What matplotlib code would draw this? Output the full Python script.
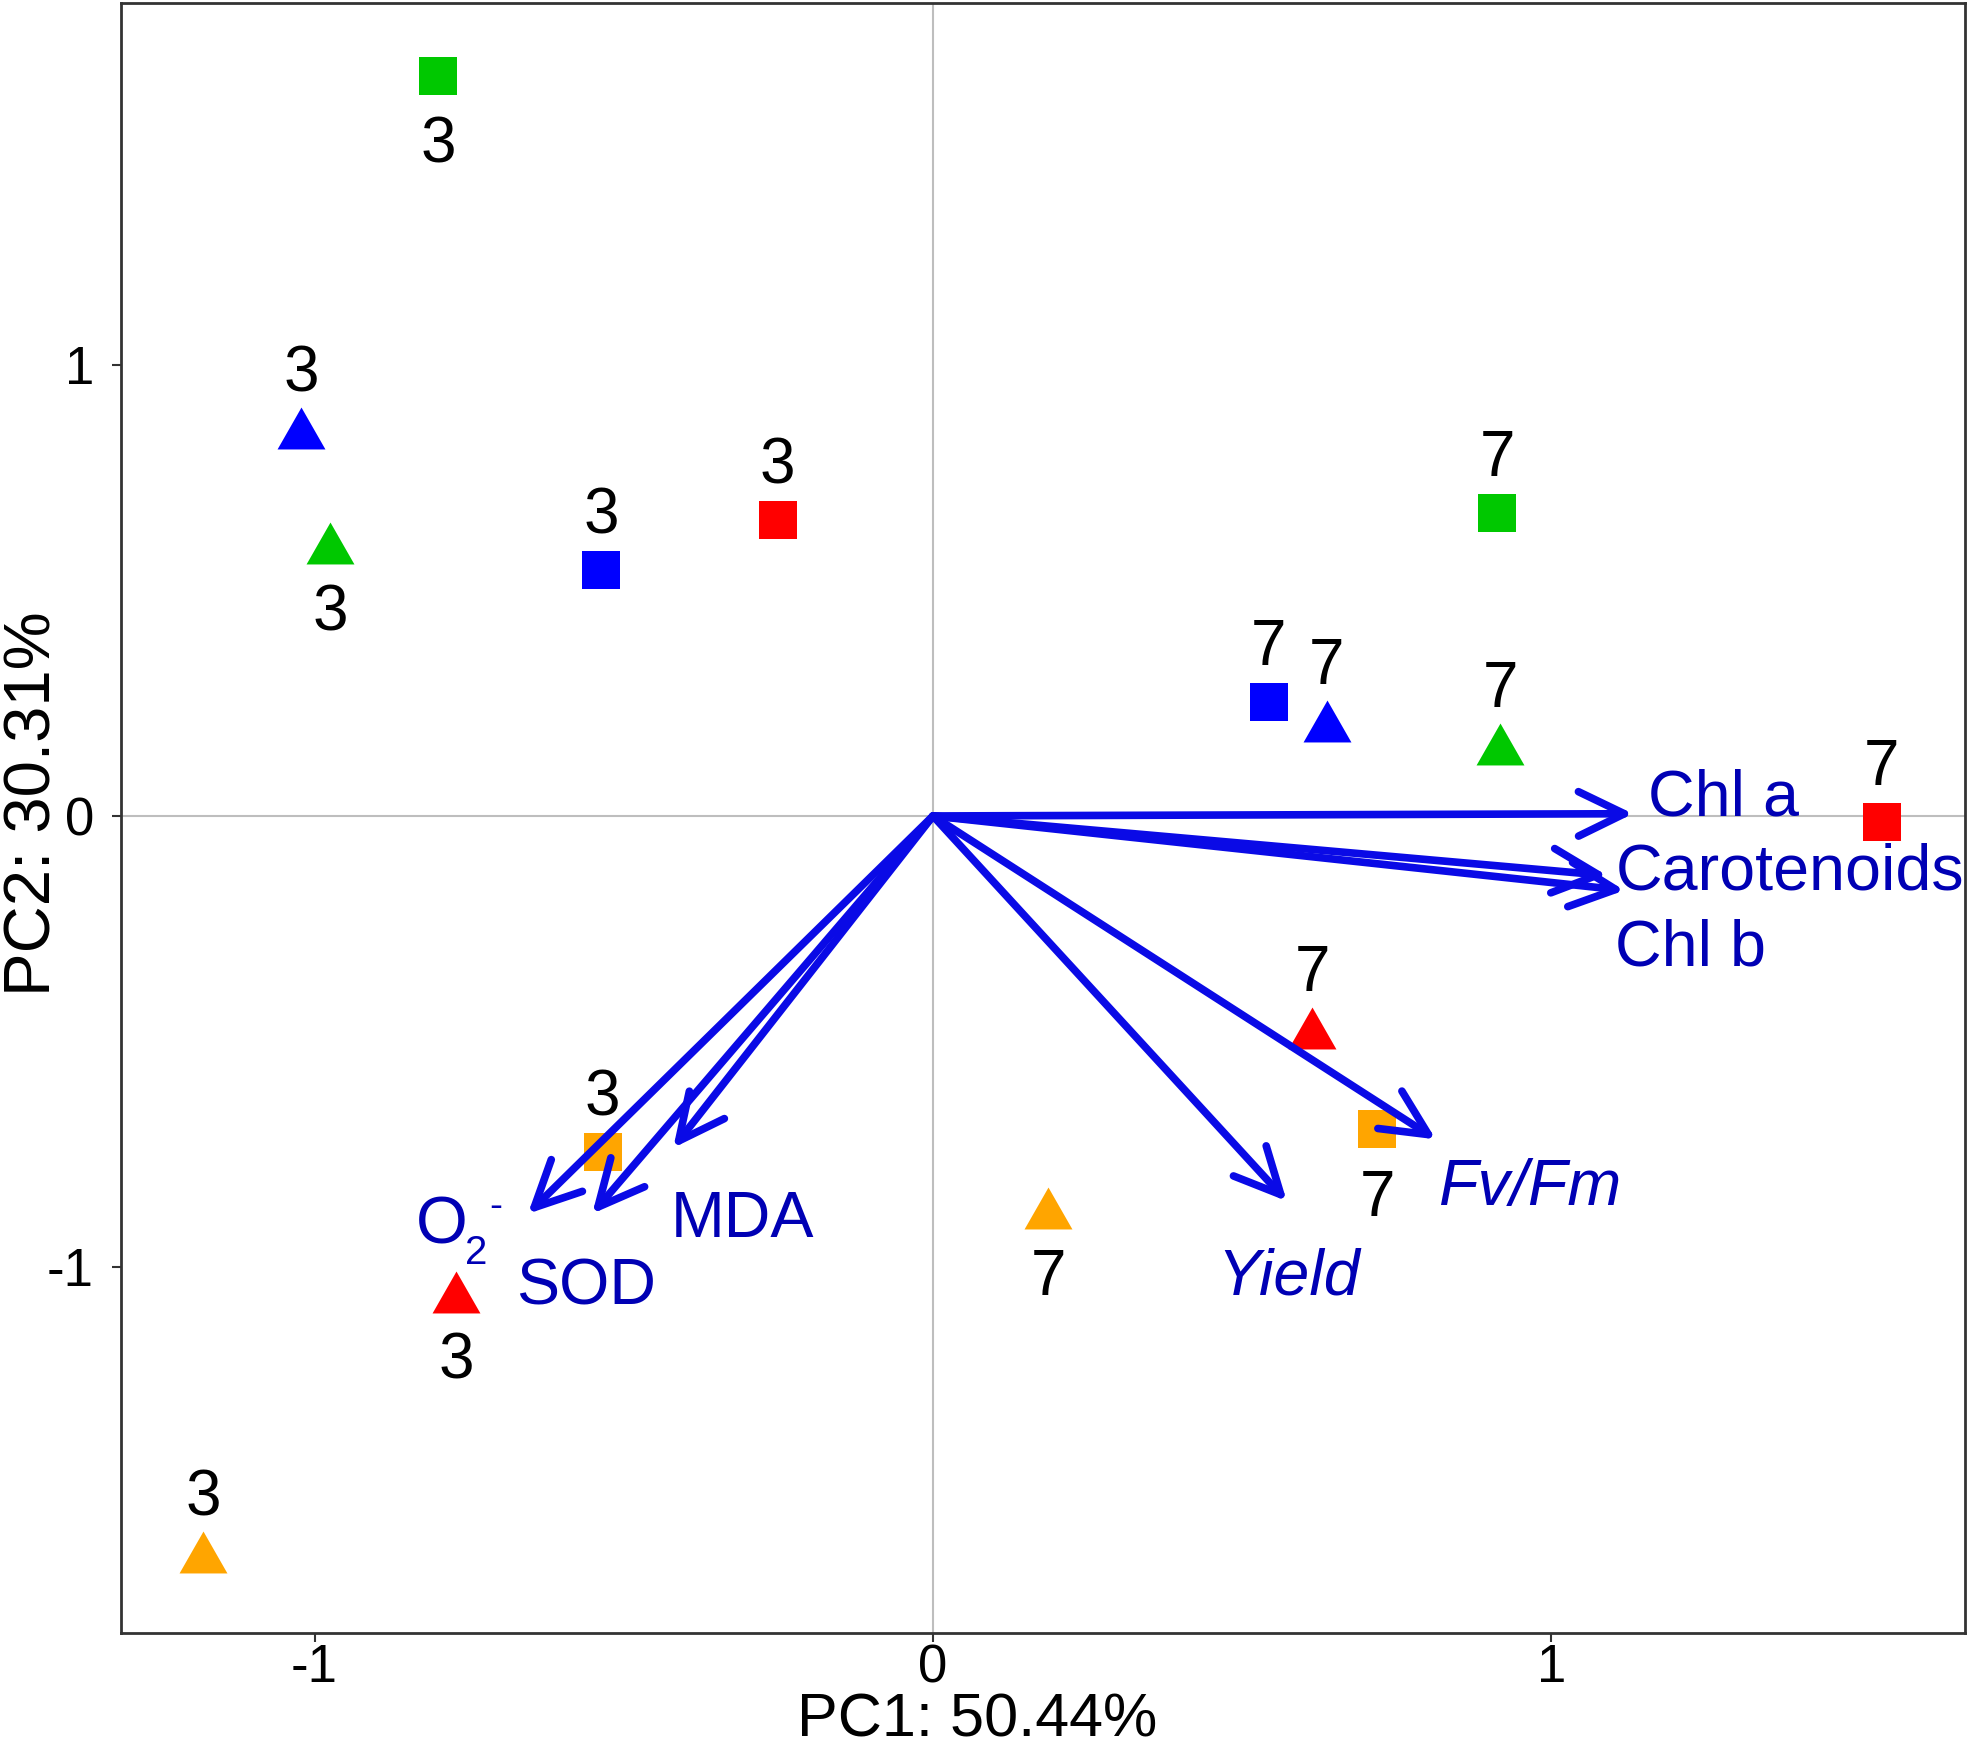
import matplotlib
matplotlib.use('Agg')
import matplotlib.pyplot as plt
from matplotlib.patches import FancyArrowPatch

plt.rcParams['font.family'] = ['Liberation Sans', 'DejaVu Sans']

# sample scores (PC1, PC2)
pc1 = [-0.800, -1.022, -0.975, -0.537, -0.251, -0.534, -0.771, -1.180,
       0.912, 0.543, 0.637, 0.917, 1.534, 0.613, 0.718, 0.186]
pc2 = [1.641, 0.860, 0.605, 0.545, 0.656, -0.745, -1.055, -1.632,
       0.672, 0.253, 0.211, 0.160, -0.013, -0.470, -0.694, -0.869]
sample_color = ['green', 'blue', 'green', 'blue', 'red', 'orange', 'red', 'orange',
                'green', 'blue', 'blue', 'green', 'red', 'red', 'orange', 'orange']
sample_shape = ['sq', 'tri', 'tri', 'sq', 'sq', 'sq', 'tri', 'tri',
                'sq', 'sq', 'tri', 'tri', 'sq', 'tri', 'sq', 'tri']
sample_day = ['3'] * 8 + ['7'] * 8
label_side = ['below', 'above', 'below', 'above', 'above', 'above', 'below', 'above',
              'above', 'above', 'above', 'above', 'above', 'above', 'below', 'below']

# variable loadings
variables = ['Chl a', 'Carotenoids', 'Chl b', 'Fv/Fm', 'Yield', 'MDA', 'SOD', 'O2-']
load1 = [1.132, 1.090, 1.118, 0.813, 0.572, -0.420, -0.551, -0.655]
load2 = [0.005, -0.132, -0.165, -0.717, -0.854, -0.736, -0.882, -0.882]

x_ticks = [-1, 0, 1]
y_ticks = [-1, 0, 1]
x_label = 'PC1: 50.44%'
y_label = 'PC2: 30.31%'

palette = {'green': '#00C800', 'blue': '#0000FF', 'red': '#FF0000', 'orange': '#FFA500'}
tri = [(-1, -0.875), (1, -0.875), (0, 0.875)]
arrow_col = '#0A0AE6'
text_col = '#0000B4'

# label offsets (points) from arrow tips
lab_off = {'Chl a': (11, -1.5), 'Carotenoids': (6, -10), 'Chl b': (-7, -54),
           'Fv/Fm': (1.5, -47), 'Yield': (-50, -67), 'MDA': (-1.5, -64),
           'SOD': (-55, -65.5)}

fig = plt.figure(figsize=(19.69, 17.5), dpi=100)
ax = fig.add_axes([0.06145, 0.0669, 0.9365, 0.9314])
ax.set_xlim(-1.3129, 1.6686)
ax.set_ylim(-1.8115, 1.8027)

ax.axhline(0, color='#BEBEBE', lw=1.5, zorder=0)
ax.axvline(0, color='#BEBEBE', lw=1.5, zorder=0)

for x, y, c, s, d, side in zip(pc1, pc2, sample_color, sample_shape, sample_day, label_side):
    if s == 'sq':
        ax.plot(x, y, marker='s', ms=27.5, color=palette[c], mew=0, ls='none', zorder=2)
    else:
        ax.plot(x, y, marker=tri, ms=34.5, color=palette[c], mew=0, ls='none', zorder=2)
    dy = 26.6 if side == 'above' else -62.6
    ax.annotate(d, (x, y), xytext=(0, dy), textcoords='offset points',
                ha='center', va='baseline', fontsize=46, color='black', zorder=4)

for v, x, y in zip(variables, load1, load2):
    arr = FancyArrowPatch((0, 0), (x, y), arrowstyle='->,head_length=0.33,head_width=0.16',
                          mutation_scale=100, color=arrow_col, lw=5.5,
                          shrinkA=0, shrinkB=0, zorder=3)
    ax.add_patch(arr)
    if v == 'O2-':
        ax.annotate('O', (x, y), xytext=(-81, -21.6), textcoords='offset points',
                    ha='left', va='baseline', fontsize=48, color=text_col)
        ax.annotate('2', (x, y), xytext=(-45, -36), textcoords='offset points',
                    ha='left', va='baseline', fontsize=29, color=text_col)
        ax.annotate('-', (x, y), xytext=(-23, 5), textcoords='offset points',
                    ha='center', va='center', fontsize=28, color=text_col)
    else:
        style = 'italic' if v in ('Fv/Fm', 'Yield') else 'normal'
        ax.annotate(v, (x, y), xytext=lab_off[v], textcoords='offset points',
                    ha='left', va='baseline', fontsize=46.5, color=text_col,
                    fontstyle=style)

ax.set_xticks(x_ticks)
ax.set_yticks(y_ticks)
ax.set_xticklabels([str(t) for t in x_ticks])
ax.set_yticklabels([str(t) for t in y_ticks])
ax.tick_params(axis='both', direction='out', length=6.5, width=1.5, colors='#333333',
               labelsize=38, labelcolor='black')
ax.tick_params(axis='x', pad=1)
ax.tick_params(axis='y', pad=13)
for sp in ax.spines.values():
    sp.set_color('#333333')
    sp.set_linewidth(2)

fig.text(0.4962, 0.0078, x_label, ha='center', va='baseline', fontsize=44)
fig.text(0.017, 0.5406, y_label, ha='center', va='center', rotation=90, fontsize=47)

fig.savefig('out.png', dpi=100)
